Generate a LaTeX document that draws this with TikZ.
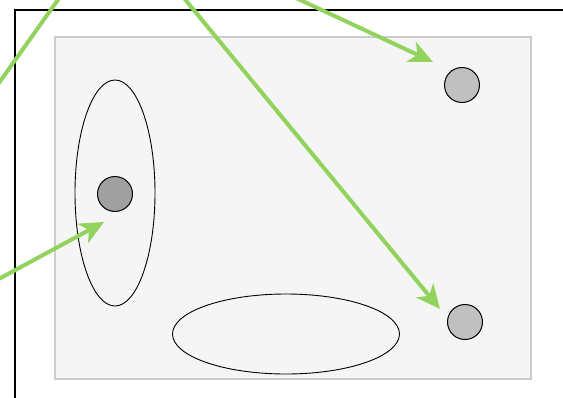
\documentclass[tikz,border=0pt]{standalone}
\usetikzlibrary{arrows.meta,shapes.geometric}
\definecolor{pointer}{HTML}{92D35E}
\definecolor{panel}{HTML}{F5F5F5}
\definecolor{panelline}{HTML}{CCCCCC}
\definecolor{dotdark}{HTML}{A0A0A0}
\definecolor{dotlight}{HTML}{C0C0C0}
\begin{document}
\begin{tikzpicture}[x=1pt,y=-1pt,
        dot/.style={circle,draw,line width=1pt,inner sep=0pt,minimum size=35pt},
        region/.style={ellipse,draw,line width=0.9pt,inner sep=0pt},
        pointer/.style={-{Stealth[length=24pt,width=22pt,inset=7pt]},line width=4pt,draw=pointer}]
        \useasboundingbox (0,0) rectangle (563,397);
        \clip (0,0) rectangle (563,397);
        % frame and panel
        \draw[line width=2.2pt] (15,10) rectangle (620,450);
        \draw[draw=panelline,fill=panel,line width=2pt] (55,37) rectangle (531,379);
        % regions
        \node[region,minimum width=80pt,minimum height=226pt] at (115,193) (r1) {};
        \node[region,minimum width=227pt,minimum height=80pt] at (286,334) (r2) {};
        % points
        \node[dot,fill=dotdark] at (115,194) (p1) {};
        \node[dot,fill=dotlight] at (462,85) (p2) {};
        \node[dot,fill=dotlight] at (465,322) (p3) {};
        % pointer ends
        \coordinate (s0) at (72,-20);
        \coordinate (t0) at (-16,104);
        \coordinate (s1) at (234,-31);
        \coordinate (t1) at (433,62);
        \coordinate (s2) at (160,-31);
        \coordinate (t2) at (440,309);
        \coordinate (s3) at (-40,300);
        \coordinate (t3) at (104,222);
        \draw[pointer,-] (s0) -- (t0);
        \draw[pointer] (s1) -- (t1);
        \draw[pointer] (s2) -- (t2);
        \draw[pointer] (s3) -- (t3);
    \end{tikzpicture}
\end{document}
